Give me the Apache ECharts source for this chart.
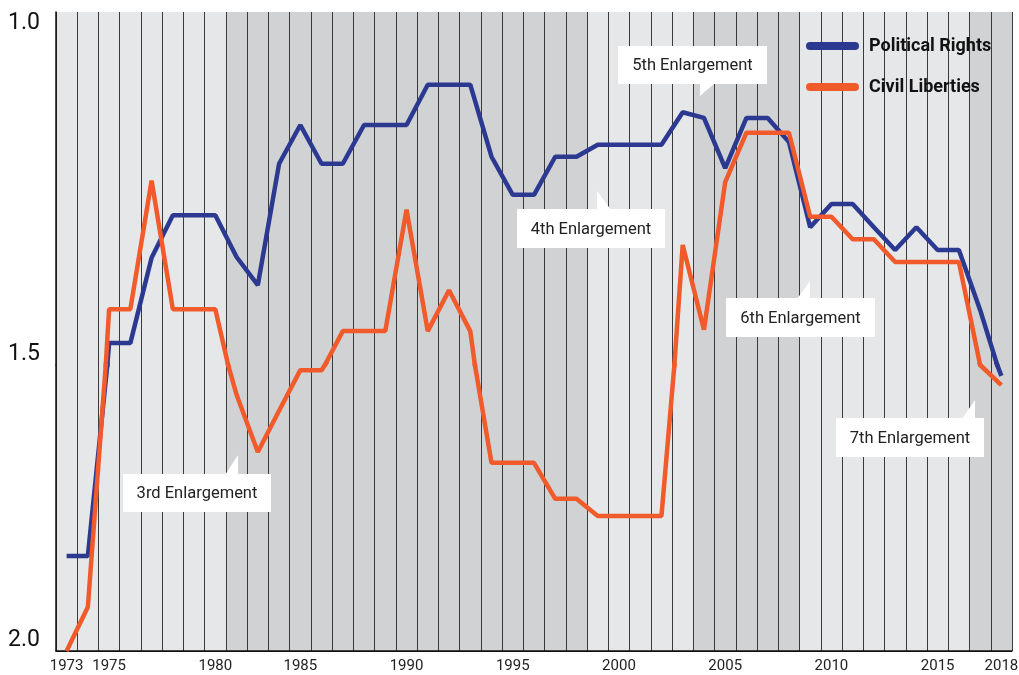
<!DOCTYPE html>
<html>
<head>
<meta charset="utf-8">
<script src="https://cdn.jsdelivr.net/npm/echarts@6/dist/echarts.min.js"></script>
<style>
html,body{margin:0;padding:0;background:#fff;}
#chart{width:1019px;height:675px;}
</style>
</head>
<body>
<div id="chart"></div>
<script>
// ---- data ----
const years = ['1973','1974','1975','1976','1977','1978','1979','1980','1981',
  '1983','1984','1985','1986','1987','1988','1989','1990','1991','1992','1993',
  '1994','1995','1996','1997','1998','1999','2000','2001','2002','2003',
  '2004','2005','2006','2007','2008','2009','2010','2011','2012','2013',
  '2014','2015','2016','2017','2018'];

const politicalRights = [1.834,1.834,1.469,1.469,1.348,1.288,1.288,1.288,1.347,
  1.387,1.215,1.160,1.215,1.215,1.160,1.160,1.160,1.103,1.103,1.103,
  1.205,1.259,1.259,1.205,1.205,1.188,1.188,1.188,1.188,1.142,
  1.150,1.221,1.150,1.150,1.184,1.305,1.272,1.272,1.305,1.337,
  1.305,1.337,1.337,1.422,1.519];

const civilLiberties = [2.000,1.923,1.421,1.421,1.239,1.421,1.421,1.421,1.552,
  1.652,1.580,1.509,1.509,1.452,1.452,1.452,1.280,1.452,1.394,1.452,
  1.671,1.671,1.671,1.734,1.734,1.764,1.764,1.764,1.764,1.330,
  1.450,1.241,1.171,1.171,1.171,1.290,1.290,1.322,1.322,1.354,
  1.354,1.354,1.354,1.500,1.535];

const xTickLabels = ['1973','1975','1980','1985','1990','1995','2000','2005','2010','2015','2018'];
const yTickLabels = ['1.0','1.5','2.0'];
const seriesNames = ['Political Rights','Civil Liberties'];
const shadedPeriods = [['1981','1998'],['2004','2008'],['2017','2018']];
const enlargementLabels = ['3rd Enlargement','4th Enlargement','5th Enlargement','6th Enlargement','7th Enlargement'];

// ---- styling / layout ----
const LIGHT = '#e6e7e8', DARK = '#d1d2d4';
const BLUE = '#2b3990', ORANGE = '#f15a2b';
const FONT = 'Roboto, "Liberation Sans", sans-serif';

const bandColors = years.map(y => shadedPeriods.some(p => y >= p[0] && y <= p[1]) ? DARK : LIGHT);

const chart = echarts.init(document.getElementById('chart'), null, {renderer: 'canvas'});

function xAxisFor(gridIndex, showLabels) {
  return {
    type: 'category', gridIndex, data: years, boundaryGap: true,
    axisLine: {show: showLabels, onZero: false, lineStyle: {color: '#111', width: 1.5}},
    axisTick: {show: false},
    axisLabel: {
      show: showLabels, margin: 8, color: '#222', fontSize: 15, fontFamily: FONT,
      interval: (i, v) => xTickLabels.includes(v)
    },
    splitLine: {show: true, interval: 0, lineStyle: {color: '#3a3a3a', width: 1}},
    splitArea: {show: true, interval: 0, areaStyle: {color: bandColors}}
  };
}

function labelFor(v, allowed) {
  const t = yTickLabels.find(s => Math.abs(parseFloat(s) - v) < 1e-9);
  return (t && allowed.includes(t)) ? t : '';
}

const calloutLayout = [
  {x:123, y:474, w:148, h:38, tail:[[225,475],[238,455],[238,475]]},
  {x:517, y:209, w:148, h:39, tail:[[597,210],[597,191],[611,210]]},
  {x:618, y:46,  w:149, h:38, tail:[[700,83],[715,83],[700,96]]},
  {x:726, y:298, w:149, h:39, tail:[[797,299],[810,281],[810,299]]},
  {x:836, y:418, w:148, h:39, tail:[[962,419],[975,400],[975,419]]}
];

const graphics = [];
enlargementLabels.forEach((txt, i) => {
  const c = calloutLayout[i];
  graphics.push({type: 'rect', z: 50, silent: true,
    shape: {x: c.x, y: c.y, width: c.w, height: c.h}, style: {fill: '#ffffff'}});
  graphics.push({type: 'polygon', z: 50, silent: true,
    shape: {points: c.tail}, style: {fill: '#ffffff'}});
  graphics.push({type: 'text', z: 51, silent: true, x: c.x + c.w / 2, y: c.y + c.h / 2 + 1,
    style: {text: txt, fill: '#222', fontSize: 16.5, fontFamily: FONT,
            textAlign: 'center', textVerticalAlign: 'middle', align: 'center', verticalAlign: 'middle'}});
});

function lineSeries(name, data, idx, color) {
  return {
    name, type: 'line', data, xAxisIndex: idx, yAxisIndex: idx,
    symbol: 'none', clip: true, smooth: false,
    lineStyle: {color, width: 4.5},
    itemStyle: {color},
    emphasis: {disabled: true},
    z: 3
  };
}

const pill = 'path://M4,0 L49,0 A4,4 0 0 1 49,8 L4,8 A4,4 0 0 1 4,0 Z';

const option = {
  animation: false,
  backgroundColor: '#fff',
  grid: [
    {left: 56, right: 7, top: 12, height: 353, outerBoundsMode: 'none', containLabel: false},
    {left: 56, right: 7, top: 365, height: 286, outerBoundsMode: 'none', containLabel: false}
  ],
  xAxis: [xAxisFor(0, false), xAxisFor(1, true)],
  yAxis: [
    {
      type: 'value', gridIndex: 0, min: 1.0, max: 1.5, interval: 0.5, inverse: true,
      axisLine: {show: true, lineStyle: {color: '#111', width: 1.5}},
      axisTick: {show: false},
      splitLine: {show: false},
      axisLabel: {show: true, showMinLabel: true, showMaxLabel: true, margin: 16,
        color: '#111', fontSize: 23, fontFamily: FONT, verticalAlign: 'top',
        formatter: v => labelFor(v, ['1.0'])}
    },
    {
      type: 'value', gridIndex: 1, min: 1.5, max: 2.0, interval: 0.5, inverse: true,
      axisLine: {show: true, lineStyle: {color: '#111', width: 1.5}},
      axisTick: {show: false},
      splitLine: {show: true, lineStyle: {color: '#111', width: 1}},
      axisLabel: {show: true, showMinLabel: true, showMaxLabel: true, margin: 16,
        color: '#111', fontSize: 23, lineHeight: 21, fontFamily: FONT, verticalAlign: 'bottom',
        formatter: v => labelFor(v, ['1.5', '2.0'])}
    }
  ],
  legend: {
    data: seriesNames,
    orient: 'vertical', left: 806, top: 36, padding: 0,
    itemWidth: 53, itemHeight: 8, itemGap: 21,
    icon: pill,
    textStyle: {color: '#111', fontSize: 18, fontWeight: 'bold', fontFamily: FONT, lineHeight: 20, padding: [0,0,0,5]},
    selectedMode: false
  },
  graphic: {elements: graphics},
  series: [
    lineSeries(seriesNames[0], politicalRights, 0, BLUE),
    lineSeries(seriesNames[1], civilLiberties, 0, ORANGE),
    lineSeries(seriesNames[0], politicalRights, 1, BLUE),
    lineSeries(seriesNames[1], civilLiberties, 1, ORANGE)
  ]
};
chart.setOption(option);
</script>
</body>
</html>
